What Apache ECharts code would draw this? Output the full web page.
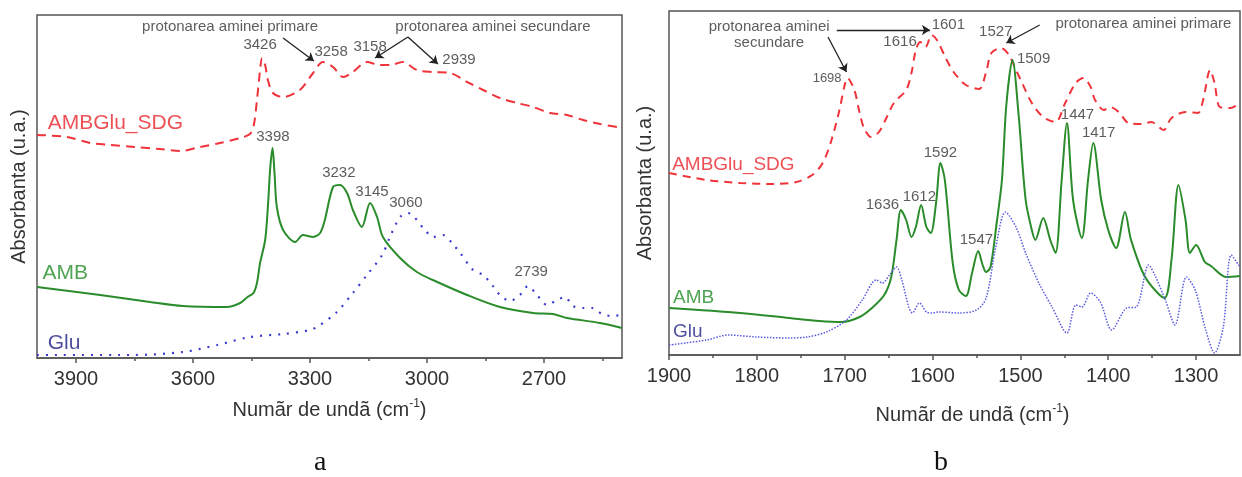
<!DOCTYPE html>
<html>
<head>
<meta charset="utf-8">
<script src="https://cdn.jsdelivr.net/npm/echarts@6/dist/echarts.min.js"></script>
<style>
html,body{margin:0;padding:0;background:#fff;}
#c{width:1242px;height:477px;}
</style>
</head>
<body>
<div id="c"></div>
<script>
// ---------- tick values ----------
const leftTicks = [2700, 3000, 3300, 3600, 3900];
const leftMinorTicks = [2550, 2850, 3150, 3450, 3750];
const rightTicks = [1300, 1400, 1500, 1600, 1700, 1800, 1900];
const rightMinorTicks = [1350, 1450, 1550, 1650, 1750, 1850];

// ---------- panel a : [wavenumber, absorbance (a.u.)] ----------
const aSDG = [[4000,223],[3923,221],[3864,215],[3813,213],[3749,211],[3685,209],[3633,207],[3582,211],[3531,215],[3479,220],[3454,224],[3444,233],[3436,258],[3428,288],[3423,300],[3415,293],[3408,278],[3395,265],[3369,261],[3326,268],[3292,285],[3267,296],[3241,291],[3215,281],[3190,286],[3154,296],[3121,293],[3095,293],[3062,296],[3026,288],[2985,286],[2941,285],[2897,276],[2856,268],[2813,260],[2769,255],[2728,251],[2685,245],[2641,243],[2600,238],[2556,234],[2500,230]];
const aAMB = [[4000,71],[3838,63],[3710,56],[3626,52],[3513,51],[3479,55],[3460,61],[3445,65],[3436,75],[3428,95],[3415,118],[3408,151],[3402,190],[3396,210],[3391,185],[3385,151],[3369,128],[3338,116],[3318,123],[3292,121],[3274,125],[3262,138],[3241,171],[3223,173],[3205,165],[3190,148],[3167,131],[3146,155],[3128,141],[3113,121],[3069,100],[3026,86],[2985,78],[2897,63],[2813,51],[2728,45],[2677,44],[2641,40],[2556,35],[2500,30]];
const aGlu = [[4000,3],[3754,3],[3626,6],[3538,13],[3454,21],[3369,24],[3300,28],[3274,33],[3231,46],[3190,65],[3154,83],[3115,103],[3095,121],[3069,141],[3049,145],[3005,128],[2985,121],[2959,123],[2936,115],[2915,105],[2882,88],[2856,83],[2831,72],[2813,63],[2787,57],[2762,63],[2741,72],[2718,63],[2692,53],[2667,58],[2646,61],[2626,52],[2600,50],[2577,50],[2551,44],[2526,42],[2500,43]];

// ---------- panel b ----------
const bSDG = [[1900,182],[1857,175],[1819,172],[1782,171],[1755,173],[1737,180],[1725,192],[1715,215],[1706,245],[1700,270],[1697,277],[1689,265],[1683,242],[1678,227],[1670,218],[1661,223],[1652,238],[1644,252],[1630,265],[1624,282],[1619,305],[1614,313],[1608,308],[1601,320],[1595,315],[1585,297],[1576,283],[1562,270],[1547,266],[1539,283],[1533,302],[1522,307],[1513,300],[1505,285],[1498,272],[1487,252],[1474,238],[1460,233],[1449,252],[1437,272],[1428,277],[1420,268],[1415,255],[1405,245],[1398,248],[1388,243],[1377,232],[1362,231],[1351,233],[1337,225],[1328,237],[1312,243],[1298,242],[1292,255],[1284,285],[1279,272],[1273,248],[1261,247],[1250,252]];
const bAMB = [[1900,47],[1819,42],[1763,37],[1729,34],[1703,33],[1683,38],[1669,47],[1655,60],[1647,78],[1641,115],[1636,145],[1630,135],[1624,118],[1619,128],[1613,150],[1607,128],[1602,122],[1596,152],[1591,192],[1586,175],[1577,92],[1570,65],[1562,59],[1555,82],[1548,104],[1543,90],[1539,83],[1534,88],[1527,132],[1521,175],[1516,250],[1509,295],[1502,240],[1494,155],[1487,125],[1483,115],[1474,137],[1466,115],[1460,102],[1453,175],[1447,232],[1440,155],[1430,117],[1423,175],[1417,212],[1408,155],[1400,125],[1391,107],[1381,143],[1374,115],[1358,78],[1336,57],[1328,95],[1320,170],[1312,135],[1307,102],[1300,110],[1290,93],[1283,89],[1266,78],[1250,79]];
const bGlu = [[1900,10],[1857,15],[1833,20],[1800,18],[1763,17],[1743,18],[1721,23],[1698,35],[1680,55],[1664,75],[1657,72],[1649,80],[1641,88],[1635,75],[1627,48],[1623,42],[1615,52],[1607,43],[1601,42],[1593,43],[1570,42],[1550,45],[1539,57],[1528,108],[1517,143],[1505,128],[1494,102],[1479,72],[1464,48],[1447,22],[1437,50],[1430,48],[1420,62],[1409,53],[1396,25],[1379,47],[1368,48],[1354,90],[1347,80],[1335,55],[1324,30],[1311,78],[1301,65],[1289,25],[1279,2],[1269,28],[1260,100],[1250,88]];

// ---------- annotations: [text, wavenumber, absorbance] ----------
const aPeakLabels = [['3426',3428,313],['3258',3246,306],['3158',3146,311],['2939',2918,298],['3398',3395,221],['3232',3226,185],['3145',3141,166],['3060',3054,155],['2739',2733,86]];
const aNotes = [['protonarea aminei primare',3505,331],['protonarea aminei secundare',2831,331]];
const aSeriesNames = [['AMBGlu_SDG',3974,235,'#e8242a'],['AMB',3987,85,'#218c27'],['Glu',3974,15,'#1f1f85']];
const aArrows = [[[3369,320],[3290,297]],[[3049,321],[3133,300]],[[3049,321],[2972,294]]];

const bPeakLabels = [['1616',1637,313],['1601',1582,330],['1527',1528,323],['1509',1485,296],['1447',1435,240],['1417',1411,222],['1592',1591,202],['1612',1615,158],['1636',1657,150],['1547',1550,115]];
const bSmallLabels = [['1698',1720,277]];
const bNotes = [['protonarea aminei\nsecundare',1786,320],['protonarea aminei primare',1360,331]];
const bSeriesNames = [['AMBGlu_SDG',1897,190,'#e8242a'],['AMB',1896,57,'#218c27'],['Glu',1896,23,'#1f1f85']];
const bArrows = [[[1709,325],[1603,325]],[[1719,318],[1698,283]],[[1478,330],[1516,312]]];

const FONT = "'Liberation Sans', Arial, 'DejaVu Sans', sans-serif";
const AXC = '#555';
const TXT = '#333';

function plain(v) { return String(v); }

function xAxes(grid, min, max, ticks, minor, nameOpts) {
  return [
    Object.assign({
      type: 'value', gridIndex: grid, min: min, max: max, inverse: true, position: 'bottom',
      axisLine: { show: true, onZero: false, lineStyle: { color: AXC, width: 1.5 } },
      axisTick: { show: true, inside: false, length: 5, customValues: ticks, lineStyle: { color: AXC, width: 1.5 } },
      axisLabel: { show: true, customValues: ticks, formatter: plain, margin: 11, fontSize: 20, color: TXT, fontFamily: FONT },
      splitLine: { show: false },
      nameLocation: 'middle',
      nameTextStyle: { fontSize: 20, color: TXT, fontFamily: FONT, lineHeight: 24,
        rich: { sup: { fontSize: 12, color: TXT, fontFamily: FONT, verticalAlign: 'top', lineHeight: 14 } } }
    }, nameOpts),
    {
      type: 'value', gridIndex: grid, min: min, max: max, inverse: true, position: 'bottom',
      axisLine: { show: false, onZero: false },
      axisTick: { show: true, inside: false, length: 3, customValues: minor, lineStyle: { color: AXC, width: 1.5 } },
      axisLabel: { show: false },
      splitLine: { show: false }
    }
  ];
}

function yAxis(grid, max, gap) {
  return {
    type: 'value', gridIndex: grid, min: 0, max: max,
    axisLine: { show: false }, axisTick: { show: false }, axisLabel: { show: false }, splitLine: { show: false },
    name: 'Absorbanta (u.a.)', nameLocation: 'middle', nameGap: gap,
    nameTextStyle: { fontSize: 20, color: TXT, fontFamily: FONT }
  };
}

function curve(name, data, xi, yi, color, type, width, smooth) {
  return {
    name: name, type: 'line', xAxisIndex: xi, yAxisIndex: yi, data: data,
    showSymbol: false, symbol: 'none', smooth: smooth, silent: true, animation: false, clip: true,
    lineStyle: { color: color, type: type, width: width, cap: 'butt' }
  };
}

function textSeries(items, xi, yi, opts) {
  return {
    type: 'scatter', xAxisIndex: xi, yAxisIndex: yi, silent: true, animation: false,
    symbolSize: 1, itemStyle: { color: 'rgba(255,255,255,0)' }, z: 10,
    data: items.map(function (t) {
      return {
        name: t[0], value: [t[1], t[2]],
        label: Object.assign({ show: true, formatter: t[0], fontFamily: FONT, color: t[3] || TXT }, opts)
      };
    })
  };
}

function arrowSeries(arrows, xi, yi) {
  return {
    type: 'lines', coordinateSystem: 'cartesian2d', xAxisIndex: xi, yAxisIndex: yi,
    silent: true, animation: false, z: 10,
    symbol: ['none', 'arrow'], symbolSize: 8,
    lineStyle: { color: '#222', width: 1.3, opacity: 1 },
    data: arrows.map(function (a) { return { coords: a }; })
  };
}

const chart = echarts.init(document.getElementById('c'), null, { renderer: 'canvas' });
chart.setOption({
  backgroundColor: '#fff',
  animation: false,
  grid: [
    { left: 37, top: 15, width: 585, height: 343, show: true, borderColor: AXC, borderWidth: 1.5, backgroundColor: 'transparent' },
    { left: 669, top: 11, width: 571, height: 344, show: true, borderColor: AXC, borderWidth: 1.5, backgroundColor: 'transparent' }
  ],
  xAxis: [].concat(
    xAxes(0, 2500, 4000, leftTicks, leftMinorTicks, { name: 'Numãr de undã (cm{sup|-1})', nameGap: 40 }),
    xAxes(1, 1250, 1900, rightTicks, rightMinorTicks, { name: 'Numãr de undã (cm{sup|-1})', nameGap: 48, nameTextStyle: { fontSize: 20, color: TXT, fontFamily: FONT, lineHeight: 24, padding: [0, 0, 0, 36], rich: { sup: { fontSize: 12, color: TXT, fontFamily: FONT, verticalAlign: 'top', lineHeight: 14 } } } })
  ),
  yAxis: [yAxis(0, 343, 8), yAxis(1, 344, 14)],
  series: [
    curve('AMBGlu_SDG', aSDG, 0, 0, '#f0333a', [9, 6], 2, 0.3),
    curve('AMB', aAMB, 0, 0, '#2a8c2a', 'solid', 2, 0.3),
    curve('Glu', aGlu, 0, 0, '#3a3ad0', [2, 7], 2.2, 0.3),
    curve('AMBGlu_SDG b', bSDG, 2, 1, '#f0333a', [8, 6], 2, 0.3),
    curve('AMB b', bAMB, 2, 1, '#2a8c2a', 'solid', 2, 0.3),
    curve('Glu b', bGlu, 2, 1, '#5a5ae0', [1.5, 1.5], 1.5, 0.3),

    textSeries(aPeakLabels, 0, 0, { position: 'inside', fontSize: 15 }),
    textSeries(aNotes, 0, 0, { position: 'inside', fontSize: 15 }),
    textSeries(aSeriesNames, 0, 0, { position: 'right', distance: 0, fontSize: 21 }),
    arrowSeries(aArrows, 0, 0),

    textSeries(bPeakLabels, 2, 1, { position: 'inside', fontSize: 15 }),
    textSeries(bSmallLabels, 2, 1, { position: 'inside', fontSize: 13 }),
    textSeries(bNotes, 2, 1, { position: 'inside', fontSize: 15, lineHeight: 16 }),
    textSeries(bSeriesNames, 2, 1, { position: 'right', distance: 0, fontSize: 19 }),
    arrowSeries(bArrows, 2, 1)
  ],
  graphic: [
    { type: 'text', left: 314, top: 449, style: { text: 'a', fontSize: 28, fontFamily: "'Liberation Serif', 'Times New Roman', serif", fill: '#111' } },
    { type: 'text', left: 934, top: 449, style: { text: 'b', fontSize: 28, fontFamily: "'Liberation Serif', 'Times New Roman', serif", fill: '#111' } }
  ]
});
</script>
</body>
</html>
